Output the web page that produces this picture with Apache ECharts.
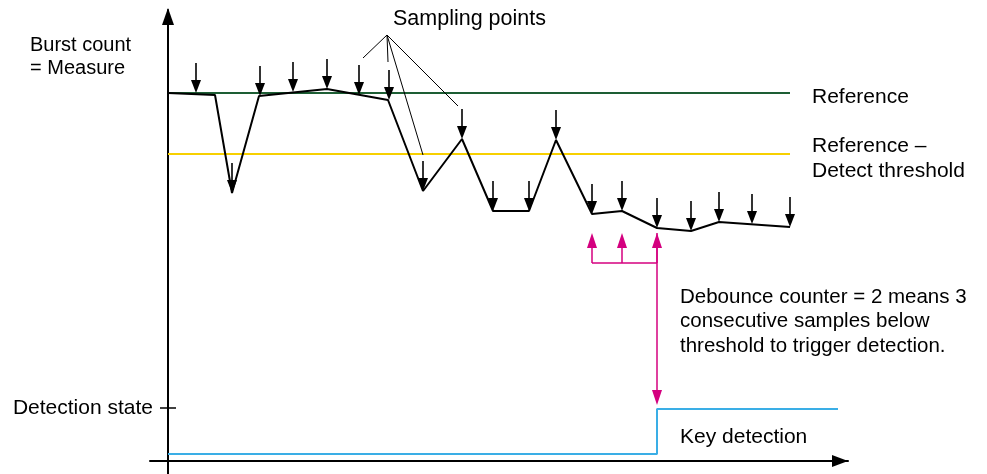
<!DOCTYPE html>
<html><head><meta charset="utf-8">
<script src="https://cdn.jsdelivr.net/npm/echarts@6/dist/echarts.min.js"></script>
<style>html,body{margin:0;padding:0;background:#fff}#c{width:987px;height:474px}</style>
</head><body><div id="c"></div>
<script>
// Burst count (measure) polyline
const lineX = [0, 47, 64, 91, 159, 220, 255, 294, 325, 361, 388, 424, 454, 489, 523, 551, 622];
const lineY = [368, 366, 268, 365, 372, 361, 270, 322, 250, 250, 321, 247, 250, 233, 230, 239, 234];
// Sampling points
const sampleX = [28, 64, 92, 125, 159, 191, 221, 255, 294, 325, 361, 388, 424, 454, 489, 523, 551, 584, 622];
const sampleY = [368, 268, 365, 369, 372, 366, 361, 270, 322, 250, 250, 321, 247, 250, 233, 230, 239, 237, 234];
// Levels
const referenceLevel = 368;
const thresholdLevel = 307;
const levelStartX = 0;
const levelEndX = 622;
// Detection state
const detX = [0, 489, 489, 670];
const detY = [7, 7, 52, 52];
const stateTickValue = 53;
// Debounce markers
const debounceX = [424, 454, 489];
const debounceBarY = 198;
const debounceTipY = 228;
const detectArrowTipY = 56;
// Leader lines of "Sampling points"
const leaderApex = [219, 426];
const leaderEndX = [195, 220, 255, 290];
const leaderEndY = [403, 399, 306, 355];
// Texts
const labels = {
  yTitle1: 'Burst count', yTitle2: '= Measure', sampling: 'Sampling points',
  ref: 'Reference', thr1: 'Reference –', thr2: 'Detect threshold',
  deb1: 'Debounce counter = 2 means 3', deb2: 'consecutive samples below', deb3: 'threshold to trigger detection.',
  state: 'Detection state', key: 'Key detection'
};

const FONT = "'Liberation Sans', Arial, sans-serif";
const MAG = '#d4007f';

const burstData = lineX.map((x, i) => [x, lineY[i]]);
const sampleData = sampleX.map((x, i) => [x, sampleY[i]]);
const detData = detX.map((x, i) => [x, detY[i]]);
const leaderData = [];
leaderEndX.forEach((x, i) => { leaderData.push(leaderApex, [x, leaderEndY[i]], null); });
leaderData.pop();
const magArrows = debounceX.map(x => [x, debounceBarY, debounceTipY]);
magArrows.push([debounceX[2], debounceTipY, detectArrowTipY]);
const bracketData = [[debounceX[0], debounceBarY], [debounceX[2], debounceBarY]];

function txt(t, x, y, size) {
  return { type: 'text', x: x, y: y, z: 100,
    style: { text: t, fontSize: size || 20, fontFamily: FONT, fill: '#000', align: 'left', verticalAlign: 'middle' } };
}

const chart = echarts.init(document.getElementById('c'), null, { renderer: 'canvas' });
chart.setOption({
  animation: false,
  backgroundColor: '#fff',
  grid: { left: 150, right: 139, top: 10, bottom: 0, containLabel: false },
  xAxis: {
    type: 'value', min: -18, max: 680,
    axisLine: { onZero: true, lineStyle: { color: '#000', width: 2 }, symbol: ['none', 'triangle'], symbolSize: [12, 16], symbolOffset: [0, -8] },
    axisTick: { show: false }, axisLabel: { show: false }, splitLine: { show: false }
  },
  yAxis: {
    type: 'value', min: -13, max: 451,
    axisLine: { onZero: true, lineStyle: { color: '#000', width: 2 }, symbol: ['none', 'triangle'], symbolSize: [12, 17], symbolOffset: [0, -6.5] },
    axisTick: { show: false },
    axisLabel: { customValues: [stateTickValue], formatter: () => labels.state, margin: -3, fontSize: 21, fontFamily: FONT, color: '#000' },
    splitLine: { show: false }
  },
  series: [
    { type: 'line', data: [[levelStartX, referenceLevel], [levelEndX, referenceLevel]], symbol: 'none', lineStyle: { color: '#1d5e34', width: 2 }, z: 2 },
    { type: 'line', data: [[levelStartX, thresholdLevel], [levelEndX, thresholdLevel]], symbol: 'none', lineStyle: { color: '#f7d000', width: 2 }, z: 2 },
    { type: 'line', data: burstData, symbol: 'none', lineStyle: { color: '#000', width: 2 }, z: 3 },
    { type: 'line', data: leaderData, symbol: 'none', connectNulls: false, lineStyle: { color: '#000', width: 1 }, z: 3 },
    { type: 'line', data: detData, symbol: 'none', lineStyle: { color: '#3aaee6', width: 2 }, z: 3 },
    { type: 'line', data: bracketData, symbol: 'none', lineStyle: { color: MAG, width: 1.5 }, z: 3 },
    { type: 'line', data: [[-8, stateTickValue], [8, stateTickValue]], symbol: 'none', lineStyle: { color: '#000', width: 1.5 }, z: 3 },
    {
      type: 'custom', data: sampleData, z: 4,
      renderItem: function (params, api) {
        const p = api.coord([api.value(0), api.value(1)]);
        const L = 30, H = 13, W = 10;
        return { type: 'group', children: [
          { type: 'line', shape: { x1: p[0], y1: p[1] - L, x2: p[0], y2: p[1] - H + 1 }, style: { stroke: '#000', lineWidth: 1.6 } },
          { type: 'polygon', shape: { points: [[p[0] - W / 2, p[1] - H], [p[0] + W / 2, p[1] - H], [p[0], p[1]]] }, style: { fill: '#000' } }
        ] };
      }
    },
    {
      type: 'custom', data: magArrows, z: 4,
      renderItem: function (params, api) {
        const a = api.coord([api.value(0), api.value(1)]);
        const b = api.coord([api.value(0), api.value(2)]);
        const dir = b[1] < a[1] ? -1 : 1;
        const H = 15, W = 10;
        return { type: 'group', children: [
          { type: 'line', shape: { x1: a[0], y1: a[1], x2: b[0], y2: b[1] - dir * (H - 1) }, style: { stroke: MAG, lineWidth: 1.5 } },
          { type: 'polygon', shape: { points: [[b[0] - W / 2, b[1] - dir * H], [b[0] + W / 2, b[1] - dir * H], [b[0], b[1]]] }, style: { fill: MAG } }
        ] };
      }
    }
  ],
  graphic: [
    txt(labels.yTitle1, 30, 45, 20), txt(labels.yTitle2, 30, 68, 20),
    txt(labels.sampling, 393, 19, 21.5),
    txt(labels.ref, 812, 97, 21),
    txt(labels.thr1, 812, 146, 21), txt(labels.thr2, 812, 171, 21),
    txt(labels.deb1, 680, 297, 20.5), txt(labels.deb2, 680, 321, 20.5), txt(labels.deb3, 680, 346, 20.5),
    txt(labels.key, 680, 437, 21)
  ]
});
</script></body></html>
